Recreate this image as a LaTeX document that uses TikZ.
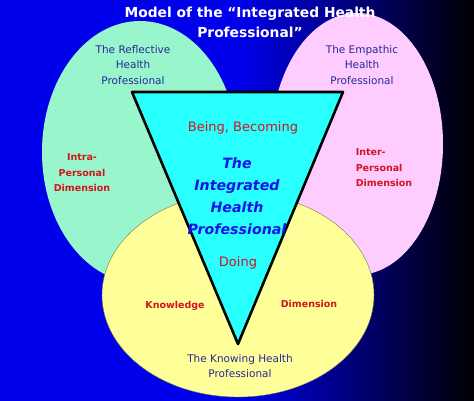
\documentclass[tikz,border=0pt]{standalone}
\usepackage{fontspec}
\setmainfont{DejaVu Sans}
\usetikzlibrary{shapes.geometric}

\definecolor{bgblue}{RGB}{0,0,235}
\definecolor{mint}{RGB}{153,245,204}
\definecolor{pinkish}{RGB}{255,204,255}
\definecolor{paleyellow}{RGB}{255,255,153}
\definecolor{brightcyan}{RGB}{40,255,255}
\definecolor{navytext}{RGB}{40,40,150}
\definecolor{redtext}{RGB}{210,20,30}
\definecolor{bluetext}{RGB}{20,20,230}

\begin{document}
\begin{tikzpicture}[x=1pt, y=-1pt,
    circ/.style={ellipse, inner sep=0pt},
    who/.style={text=navytext, align=center, font=\fontsize{10.5}{15.5}\selectfont},
    dim/.style={text=redtext, font=\fontsize{9.5}{15.5}\selectfont\bfseries},
    mode/.style={text=redtext, font=\fontsize{13}{15}\selectfont}]

        % background, blue fading to black on the right
        \useasboundingbox (0,0) rectangle (474,401);
        \fill[bgblue] (0,0) rectangle (241,401);
        \shade[left color=bgblue, right color=black] (240,0) rectangle (474,401);

        % the three circles of the model
        \node[circ, fill=mint, minimum width=196pt, minimum height=262pt] (reflect) at (140,152) {};
        \node[circ, fill=pinkish, minimum width=172pt, minimum height=262pt] (empath) at (357,144) {};
        \node[circ, fill=paleyellow, draw=black!60!yellow, thin, minimum width=272pt, minimum height=204pt] (know) at (238,295) {};

        % the inverted triangle
        \coordinate (tl) at (132,92);
        \coordinate (tr) at (343,92);
        \coordinate (tip) at (238,344);
        \draw[line width=2.6pt, line join=round, fill=brightcyan] (tl) -- (tr) -- (tip) -- cycle;

        % title
        \node[text=white, align=center, font=\fontsize{13.8}{20}\selectfont\bfseries] (title) at (250,22)
                {Model of the “Integrated Health\\Professional”};

        % the three health professionals
        \node[who] (reflectlbl) at (133,65) {The Reflective\\Health\\Professional};
        \node[who] (empathlbl) at (362,65) {The Empathic\\Health\\Professional};
        \node[who] (knowlbl) at (240,366) {The Knowing Health\\Professional};

        % dimensions
        \node[dim, align=center] (intra) at (82,173) {Intra-\\Personal\\Dimension};
        \node[dim, align=left] (inter) at (384,168) {Inter-\\Personal\\Dimension};
        \node[dim] (knowledge) at (175,306) {Knowledge};
        \node[dim] (dimension) at (309,304) {Dimension};

        % inside the triangle
        \node[mode] (being) at (243,128) {Being, Becoming};
        \node[text=bluetext, align=center, font=\fontsize{14.2}{22}\selectfont\bfseries\itshape] (integ) at (237,196)
                {The\\Integrated\\Health\\Professional};
        \node[mode] (doing) at (238,263) {Doing};

\end{tikzpicture}
\end{document}
